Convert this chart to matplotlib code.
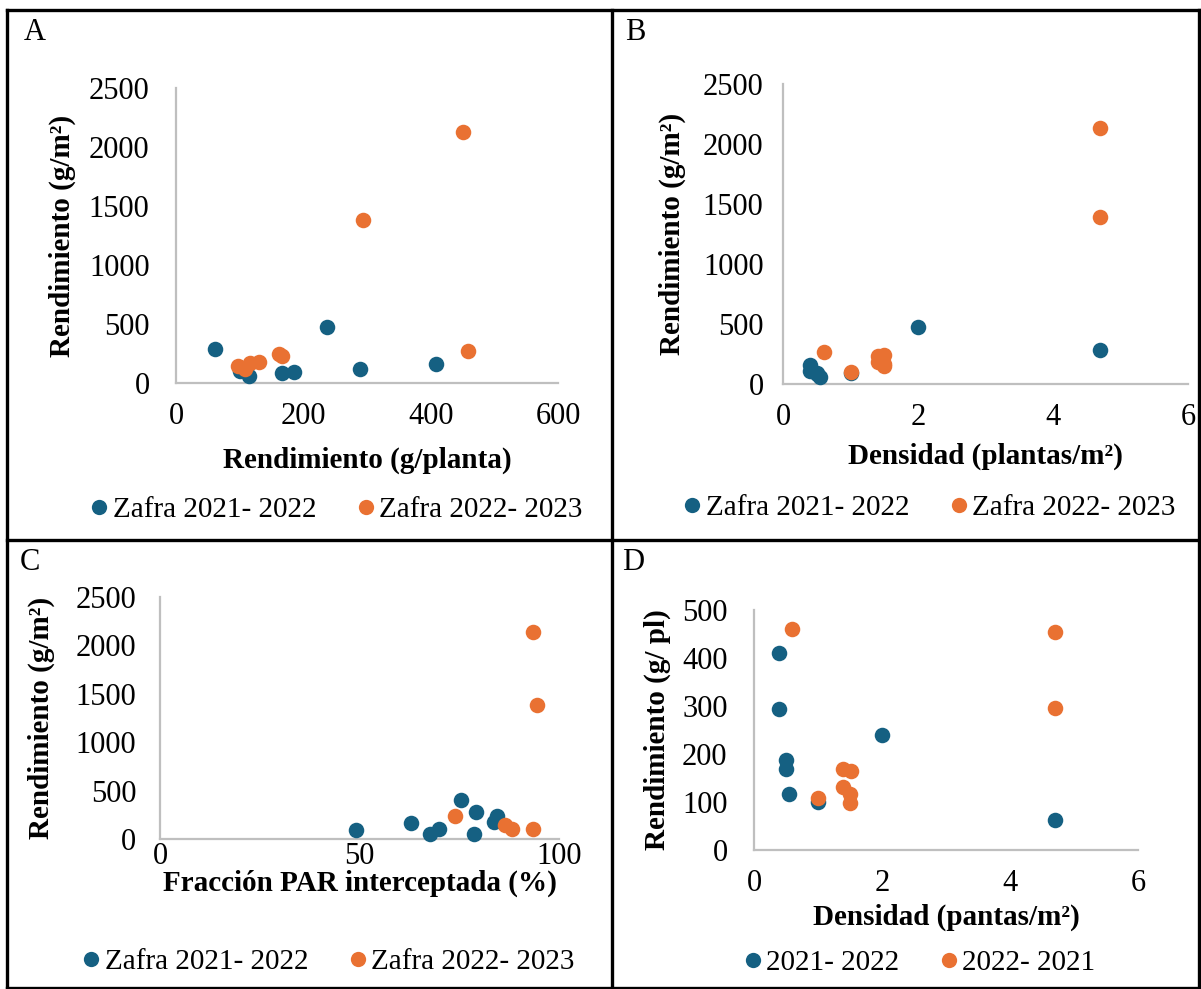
"""Rendimiento de tomate: cuatro paneles de dispersión en una tabla 2x2."""

import matplotlib

matplotlib.use("Agg")
import matplotlib.pyplot as plt
from matplotlib.lines import Line2D

# --- datos -----------------------------------------------------------------
# A: rendimiento por planta vs rendimiento por m2
a_blue_x = [61, 100, 114, 167, 186, 237, 289, 408]
a_blue_y = [288, 100, 59, 85, 93, 475, 119, 161]
a_orange_x = [97, 109, 116, 130, 162, 167, 293, 450, 458]
a_orange_y = [144, 119, 169, 178, 246, 229, 1381, 2127, 271]

# B: densidad vs rendimiento por m2
b_blue_x = [0.4, 0.4, 0.5, 0.5, 0.55, 1.0, 2.0, 4.7]
b_blue_y = [160, 112, 93, 85, 60, 95, 475, 285]
b_orange_x = [0.6, 1.0, 1.4, 1.5, 1.4, 1.5, 1.5, 4.7, 4.7]
b_orange_y = [270, 103, 233, 245, 180, 168, 148, 2133, 1389]

# C: fracción PAR interceptada vs rendimiento por m2
c_blue_x = [49, 63, 67.6, 69.8, 75.4, 79.1, 78.7, 84.4, 83.7]
c_blue_y = [93, 165, 52, 103, 403, 279, 52, 237, 176]
c_orange_x = [73.9, 86.4, 88.2, 93.5, 93.5, 94.5]
c_orange_y = [238, 145, 103, 103, 2138, 1384]

# D: densidad vs rendimiento por planta
d_blue_x = [0.39, 0.39, 0.5, 0.5, 0.55, 1.0, 2.0, 4.7]
d_blue_y = [410, 293, 187, 169, 116, 100, 240, 62]
d_orange_x = [0.6, 1.0, 1.39, 1.51, 1.39, 1.5, 1.5, 4.7, 4.7]
d_orange_y = [460, 109, 168, 165, 132, 117, 98, 454, 296]

legend_abc = ["Zafra 2021- 2022", "Zafra 2022- 2023"]
legend_d = ["2021- 2022", "2022- 2021"]

BLUE = "#156082"
ORANGE = "#E97132"
SPINE = "#BFBFBF"

W, H = 1201, 989
plt.rcParams["font.family"] = ["Liberation Serif", "DejaVu Serif"]

fig = plt.figure(figsize=(W / 100, H / 100), dpi=100)


def px_axes(left, top, right, bottom):
    """Axes placed with pixel coordinates (origin top-left)."""
    return fig.add_axes([left / W, 1 - bottom / H, (right - left) / W, (bottom - top) / H])


def scatter_panel(ax, bx, by, ox, oy, xlim, ylim, xticks, yticks, xlabel, ylabel,
                  xpad=16, ypad=18):
    ax.scatter(bx, by, s=125, color=BLUE, linewidths=0, zorder=3, clip_on=False)
    ax.scatter(ox, oy, s=125, color=ORANGE, linewidths=0, zorder=4, clip_on=False)
    ax.set_xlim(*xlim)
    ax.set_ylim(*ylim)
    ax.set_xticks(xticks)
    ax.set_yticks(yticks)
    for side in ("top", "right"):
        ax.spines[side].set_visible(False)
    for side in ("left", "bottom"):
        ax.spines[side].set_color(SPINE)
        ax.spines[side].set_linewidth(1.6)
    ax.tick_params(length=0, labelsize=22, colors="black")
    ax.tick_params(axis="x", pad=xpad)
    ax.tick_params(axis="y", pad=ypad)
    ax.set_xlabel(xlabel, fontsize=21, fontweight="bold")
    ax.set_ylabel(ylabel, fontsize=21, fontweight="bold")


def add_legend(labels, x, y):
    handles = [
        Line2D([], [], ls="", marker="o", ms=11, mec="none", color=c)
        for c in (BLUE, ORANGE)
    ]
    fig.legend(handles, labels, loc="center", bbox_to_anchor=(x / W, 1 - y / H),
               ncol=2, frameon=False, fontsize=21, handletextpad=0.05,
               columnspacing=1.3, handlelength=0.8)


ax_a = px_axes(176, 88, 558, 383)
scatter_panel(ax_a, a_blue_x, a_blue_y, a_orange_x, a_orange_y,
              (0, 600), (0, 2500), [0, 200, 400, 600], range(0, 2501, 500),
              "Rendimiento (g/planta)", "Rendimiento (g/m²)", xpad=14, ypad=19)
ax_a.xaxis.set_label_coords(0.5, -0.215)
ax_a.yaxis.set_label_coords(-0.262, 0.5)
add_legend(legend_abc, 335, 510)

ax_b = px_axes(783, 84, 1188, 384)
scatter_panel(ax_b, b_blue_x, b_blue_y, b_orange_x, b_orange_y,
              (0, 6), (0, 2500), [0, 2, 4, 6], range(0, 2501, 500),
              "Densidad (plantas/m²)", "Rendimiento (g/m²)", xpad=14, ypad=14)
ax_b.xaxis.set_label_coords(0.5, -0.195)
ax_b.yaxis.set_label_coords(-0.24, 0.5)
add_legend(legend_abc, 928, 508)

ax_c = px_axes(160, 597, 559, 839)
scatter_panel(ax_c, c_blue_x, c_blue_y, c_orange_x, c_orange_y,
              (0, 100), (0, 2500), [0, 50, 100], range(0, 2501, 500),
              "Fracción PAR interceptada (%)", "Rendimiento (g/m²)", xpad=2, ypad=17)
ax_c.xaxis.set_label_coords(0.5, -0.125)
ax_c.yaxis.set_label_coords(-0.263, 0.5)
add_legend(legend_abc, 327, 962)

ax_d = px_axes(754, 610, 1138, 850)
scatter_panel(ax_d, d_blue_x, d_blue_y, d_orange_x, d_orange_y,
              (0, 6), (0, 500), [0, 2, 4, 6], range(0, 501, 100),
              "Densidad (pantas/m²)", "Rendimiento (g/ pl)", xpad=14, ypad=19)
ax_d.xaxis.set_label_coords(0.5, -0.225)
ax_d.yaxis.set_label_coords(-0.216, 0.5)
add_legend(legend_d, 918, 963)

# letras de panel
for label, x, y in (("A", 24, 32), ("B", 625, 32), ("C", 20, 562), ("D", 622, 562)):
    fig.text(x / W, 1 - y / H, label, fontsize=22, va="center", ha="left")

# bordes de la tabla
border = dict(color="black", lw=2.4, transform=fig.transFigure, clip_on=False)
left, right, top, bottom, midx, midy = 7, 1199, 10, 988, 612, 540
for xs, ys in (
    ((left, right), (top, top)),
    ((left, right), (midy, midy)),
    ((left, right), (bottom, bottom)),
    ((left, left), (top, bottom)),
    ((midx, midx), (top, bottom)),
    ((right, right), (top, bottom)),
):
    fig.add_artist(Line2D([x / W for x in xs], [1 - y / H for y in ys], **border))

fig.savefig("out.png", dpi=100)
